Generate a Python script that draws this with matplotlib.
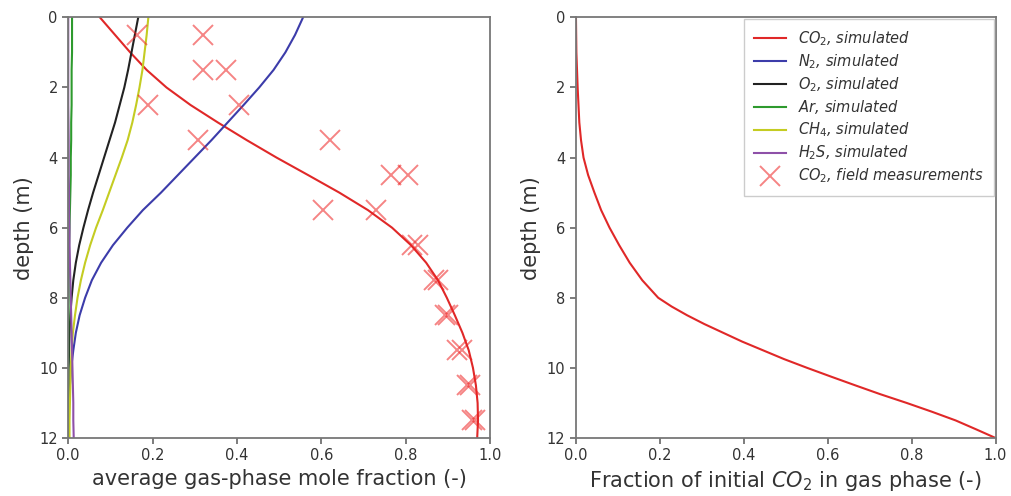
import numpy as np
import matplotlib
matplotlib.use("Agg")
import matplotlib.pyplot as plt

# depth grid (m) used for the simulated profiles
depth = [0.0, 0.5, 1.0, 1.5, 2.0, 2.5, 3.0, 3.5, 4.0, 4.5, 5.0, 5.5, 6.0,
         6.5, 7.0, 7.5, 8.0, 8.5, 9.0, 9.5, 10.0, 10.5, 11.0, 11.5, 12.0]

# simulated average gas-phase mole fractions
co2_sim = [0.075, 0.111, 0.147, 0.186, 0.233, 0.290, 0.355, 0.423, 0.494,
           0.569, 0.643, 0.711, 0.768, 0.813, 0.849, 0.877, 0.898, 0.917,
           0.935, 0.950, 0.960, 0.967, 0.971, 0.972, 0.970]
n2_sim = [0.557, 0.538, 0.515, 0.487, 0.453, 0.416, 0.378, 0.340, 0.300,
          0.260, 0.220, 0.177, 0.140, 0.106, 0.078, 0.056, 0.040, 0.027,
          0.018, 0.012, 0.007, 0.004, 0.002, 0.001, 0.0]
o2_sim = [0.166, 0.158, 0.150, 0.142, 0.133, 0.122, 0.111, 0.098, 0.085,
          0.072, 0.059, 0.047, 0.036, 0.026, 0.018, 0.012, 0.008, 0.005,
          0.003, 0.002, 0.001, 0.0005, 0.0, 0.0, 0.0]
ar_sim = [0.009, 0.009, 0.009, 0.008, 0.008, 0.008, 0.007, 0.007, 0.006,
          0.006, 0.005, 0.004, 0.003, 0.002, 0.002, 0.001, 0.001, 0.0005,
          0.0, 0.0, 0.0, 0.0, 0.0, 0.0, 0.0]
ch4_sim = [0.190, 0.186, 0.181, 0.176, 0.169, 0.161, 0.152, 0.141, 0.127,
           0.112, 0.097, 0.082, 0.066, 0.052, 0.040, 0.030, 0.022, 0.016,
           0.011, 0.008, 0.006, 0.005, 0.004, 0.003, 0.003]
h2s_sim = [0.0, 0.0, 0.0, 0.0, 0.0, 0.0, 0.0005, 0.001, 0.001, 0.001,
           0.002, 0.002, 0.003, 0.003, 0.004, 0.005, 0.006, 0.007, 0.008,
           0.009, 0.010, 0.011, 0.012, 0.012, 0.013]

# CO2 field measurements
meas_x = [0.163, 0.320, 0.320, 0.375, 0.190, 0.405, 0.307, 0.620, 0.765,
          0.805, 0.605, 0.730, 0.815, 0.830, 0.868, 0.878, 0.893, 0.900,
          0.922, 0.935, 0.946, 0.952, 0.958, 0.966]
meas_depth = [0.5, 0.5, 1.5, 1.5, 2.5, 2.5, 3.5, 3.5, 4.5, 4.5, 5.5, 5.5,
              6.5, 6.5, 7.5, 7.5, 8.5, 8.5, 9.5, 9.5, 10.5, 10.5, 11.5, 11.5]

# fraction of initial CO2 remaining in gas phase
frac_depth = [0.0, 1.0, 2.0, 3.0, 3.5, 4.0, 4.5, 5.0, 5.5, 6.0, 6.5, 7.0,
              7.5, 8.0, 8.25, 8.5, 8.75, 9.0, 9.25, 9.5, 9.75, 10.0, 10.25,
              10.5, 10.75, 11.0, 11.25, 11.5, 11.75, 12.0]
frac_co2 = [0.0, 0.001, 0.004, 0.008, 0.012, 0.018, 0.029, 0.044, 0.060,
            0.080, 0.103, 0.128, 0.158, 0.196, 0.228, 0.265, 0.306, 0.351,
            0.396, 0.446, 0.496, 0.551, 0.608, 0.666, 0.725, 0.788, 0.848,
            0.905, 0.953, 1.0]

TXT = "#333333"
plt.rcParams["text.color"] = TXT
plt.rcParams["axes.labelcolor"] = TXT
plt.rcParams["xtick.color"] = "#666666"
plt.rcParams["ytick.color"] = "#666666"
plt.rcParams["xtick.labelcolor"] = TXT
plt.rcParams["ytick.labelcolor"] = TXT
plt.rcParams["axes.edgecolor"] = "#777777"
plt.rcParams["axes.linewidth"] = 1.3

fig = plt.figure(figsize=(10.11, 4.96), dpi=100)
ax1 = fig.add_axes([0.0675, 0.117, 0.417, 0.848])
ax2 = fig.add_axes([0.5697, 0.117, 0.415, 0.848])

lw = 1.5
ax1.plot(co2_sim, depth, color="#e02828", lw=lw, label="$CO_2$, simulated")
ax1.plot(n2_sim, depth, color="#3c3caa", lw=lw, label="$N_2$, simulated")
ax1.plot(o2_sim, depth, color="#222222", lw=lw, label="$O_2$, simulated")
ax1.plot(ar_sim, depth, color="#2e9a2e", lw=lw, label="$Ar$, simulated")
ax1.plot(ch4_sim, depth, color="#c4cc22", lw=lw, label="$CH_4$, simulated")
ax1.plot(h2s_sim, depth, color="#8e50a8", lw=lw, label="$H_2S$, simulated")
ax1.plot(meas_x, meas_depth, "x", color="#ee2020", alpha=0.55, ms=15,
         mew=1.4, label="$CO_2$, field measurements")

ax2.plot(frac_co2, frac_depth, color="#e02828", lw=lw)

for ax in (ax1, ax2):
    ax.set_xlim(0, 1)
    ax.set_ylim(12, 0)
    ax.set_xticks([0.0, 0.2, 0.4, 0.6, 0.8, 1.0])
    ax.set_yticks([0, 2, 4, 6, 8, 10, 12])
    ax.tick_params(labelsize=10.5, length=4, width=1.2)
    ax.set_ylabel("depth (m)", fontsize=15)

ax1.set_xlabel("average gas-phase mole fraction (-)", fontsize=15)
ax2.set_xlabel("Fraction of initial $CO_2$ in gas phase (-)", fontsize=15)

# legend of the left curves shown on the right panel
handles, labels = ax1.get_legend_handles_labels()
leg = ax2.legend(handles, labels, loc="upper right",
                 prop={"style": "italic", "size": 10.5}, handlelength=2.2,
                 labelspacing=0.3, borderpad=0.7, borderaxespad=0.1,
                 framealpha=1, edgecolor="#cccccc", fancybox=False)

fig.savefig("out.png", dpi=100)
